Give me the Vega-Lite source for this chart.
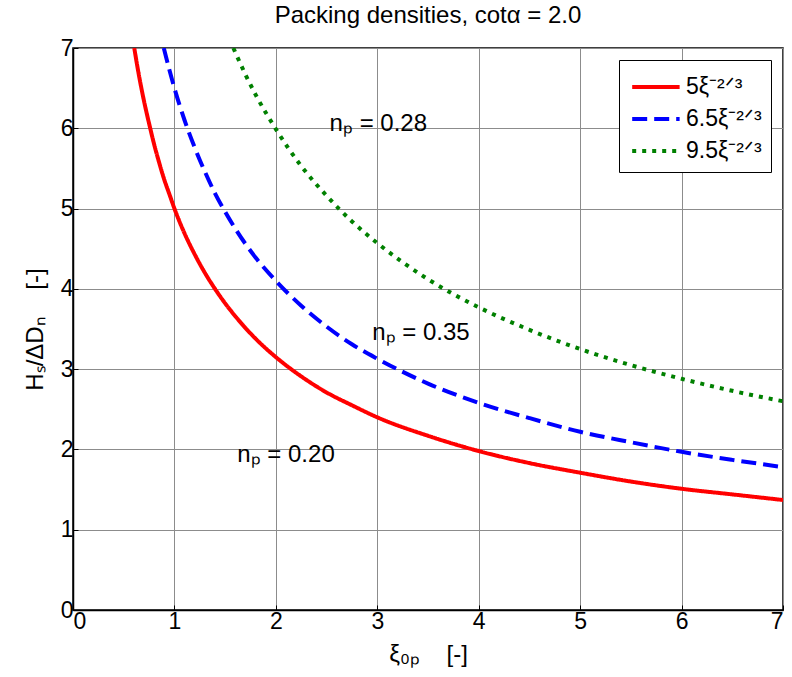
{
  "$schema": "https://vega.github.io/schema/vega-lite/v6.json",
  "width": 710,
  "height": 562,
  "autosize": {"type": "none"},
  "padding": {"left": 73, "top": 48, "right": 9, "bottom": 67},
  "background": "white",
  "title": {"text": "Packing densities, cotα = 2.0", "fontSize": 24, "font": "Liberation Sans", "fontWeight": "normal", "color": "black", "offset": 9},
  "config": {
    "font": "Liberation Sans",
    "view": {"stroke": "black", "strokeWidth": 1.5},
    "axis": {"gridColor": "#8c8c8c", "gridWidth": 1, "gridOpacity": 1, "domainColor": "black", "domainWidth": 1.5, "tickColor": "black", "tickSize": -5, "labelFontSize": 23, "labelColor": "black", "labelFont": "Liberation Sans", "titleFont": "Liberation Sans", "titleFontSize": 24, "titleFontWeight": "normal", "titleColor": "black"},
    "legend": {"labelFont": "Liberation Sans"}
  },
  "datasets": {
    "curves": [
      {"series": "5ξ⁻²ᐟ³", "x": 0.604, "y": 7.0},
      {"series": "5ξ⁻²ᐟ³", "x": 0.65, "y": 6.66},
      {"series": "5ξ⁻²ᐟ³", "x": 0.7, "y": 6.34},
      {"series": "5ξ⁻²ᐟ³", "x": 0.75, "y": 6.06},
      {"series": "5ξ⁻²ᐟ³", "x": 0.8, "y": 5.80},
      {"series": "5ξ⁻²ᐟ³", "x": 0.85, "y": 5.57},
      {"series": "5ξ⁻²ᐟ³", "x": 0.9, "y": 5.36},
      {"series": "5ξ⁻²ᐟ³", "x": 0.95, "y": 5.18},
      {"series": "5ξ⁻²ᐟ³", "x": 1.0, "y": 5.0},
      {"series": "5ξ⁻²ᐟ³", "x": 1.1, "y": 4.69},
      {"series": "5ξ⁻²ᐟ³", "x": 1.2, "y": 4.43},
      {"series": "5ξ⁻²ᐟ³", "x": 1.3, "y": 4.20},
      {"series": "5ξ⁻²ᐟ³", "x": 1.4, "y": 4.0},
      {"series": "5ξ⁻²ᐟ³", "x": 1.5, "y": 3.82},
      {"series": "5ξ⁻²ᐟ³", "x": 1.6, "y": 3.66},
      {"series": "5ξ⁻²ᐟ³", "x": 1.8, "y": 3.38},
      {"series": "5ξ⁻²ᐟ³", "x": 2.0, "y": 3.15},
      {"series": "5ξ⁻²ᐟ³", "x": 2.25, "y": 2.91},
      {"series": "5ξ⁻²ᐟ³", "x": 2.5, "y": 2.71},
      {"series": "5ξ⁻²ᐟ³", "x": 2.75, "y": 2.55},
      {"series": "5ξ⁻²ᐟ³", "x": 3.0, "y": 2.40},
      {"series": "5ξ⁻²ᐟ³", "x": 3.5, "y": 2.17},
      {"series": "5ξ⁻²ᐟ³", "x": 4.0, "y": 1.98},
      {"series": "5ξ⁻²ᐟ³", "x": 4.5, "y": 1.83},
      {"series": "5ξ⁻²ᐟ³", "x": 5.0, "y": 1.71},
      {"series": "5ξ⁻²ᐟ³", "x": 5.5, "y": 1.60},
      {"series": "5ξ⁻²ᐟ³", "x": 6.0, "y": 1.51},
      {"series": "5ξ⁻²ᐟ³", "x": 6.5, "y": 1.44},
      {"series": "5ξ⁻²ᐟ³", "x": 7.0, "y": 1.37},
      {"series": "6.5ξ⁻²ᐟ³", "x": 0.895, "y": 7.0},
      {"series": "6.5ξ⁻²ᐟ³", "x": 0.95, "y": 6.73},
      {"series": "6.5ξ⁻²ᐟ³", "x": 1.0, "y": 6.5},
      {"series": "6.5ξ⁻²ᐟ³", "x": 1.1, "y": 6.10},
      {"series": "6.5ξ⁻²ᐟ³", "x": 1.2, "y": 5.76},
      {"series": "6.5ξ⁻²ᐟ³", "x": 1.3, "y": 5.46},
      {"series": "6.5ξ⁻²ᐟ³", "x": 1.4, "y": 5.19},
      {"series": "6.5ξ⁻²ᐟ³", "x": 1.5, "y": 4.96},
      {"series": "6.5ξ⁻²ᐟ³", "x": 1.6, "y": 4.75},
      {"series": "6.5ξ⁻²ᐟ³", "x": 1.8, "y": 4.39},
      {"series": "6.5ξ⁻²ᐟ³", "x": 2.0, "y": 4.10},
      {"series": "6.5ξ⁻²ᐟ³", "x": 2.25, "y": 3.79},
      {"series": "6.5ξ⁻²ᐟ³", "x": 2.5, "y": 3.53},
      {"series": "6.5ξ⁻²ᐟ³", "x": 2.75, "y": 3.31},
      {"series": "6.5ξ⁻²ᐟ³", "x": 3.0, "y": 3.13},
      {"series": "6.5ξ⁻²ᐟ³", "x": 3.5, "y": 2.82},
      {"series": "6.5ξ⁻²ᐟ³", "x": 4.0, "y": 2.58},
      {"series": "6.5ξ⁻²ᐟ³", "x": 4.5, "y": 2.39},
      {"series": "6.5ξ⁻²ᐟ³", "x": 5.0, "y": 2.22},
      {"series": "6.5ξ⁻²ᐟ³", "x": 5.5, "y": 2.09},
      {"series": "6.5ξ⁻²ᐟ³", "x": 6.0, "y": 1.97},
      {"series": "6.5ξ⁻²ᐟ³", "x": 6.5, "y": 1.87},
      {"series": "6.5ξ⁻²ᐟ³", "x": 7.0, "y": 1.78},
      {"series": "9.5ξ⁻²ᐟ³", "x": 1.581, "y": 7.0},
      {"series": "9.5ξ⁻²ᐟ³", "x": 1.7, "y": 6.67},
      {"series": "9.5ξ⁻²ᐟ³", "x": 1.8, "y": 6.42},
      {"series": "9.5ξ⁻²ᐟ³", "x": 2.0, "y": 5.99},
      {"series": "9.5ξ⁻²ᐟ³", "x": 2.25, "y": 5.53},
      {"series": "9.5ξ⁻²ᐟ³", "x": 2.5, "y": 5.16},
      {"series": "9.5ξ⁻²ᐟ³", "x": 2.75, "y": 4.84},
      {"series": "9.5ξ⁻²ᐟ³", "x": 3.0, "y": 4.57},
      {"series": "9.5ξ⁻²ᐟ³", "x": 3.5, "y": 4.12},
      {"series": "9.5ξ⁻²ᐟ³", "x": 4.0, "y": 3.77},
      {"series": "9.5ξ⁻²ᐟ³", "x": 4.5, "y": 3.49},
      {"series": "9.5ξ⁻²ᐟ³", "x": 5.0, "y": 3.25},
      {"series": "9.5ξ⁻²ᐟ³", "x": 5.5, "y": 3.05},
      {"series": "9.5ξ⁻²ᐟ³", "x": 6.0, "y": 2.88},
      {"series": "9.5ξ⁻²ᐟ³", "x": 6.5, "y": 2.73},
      {"series": "9.5ξ⁻²ᐟ³", "x": 7.0, "y": 2.60}
    ],
    "notes": [
      {"label": "nₚ = 0.28", "x": 2.53, "y": 6.05},
      {"label": "nₚ = 0.35", "x": 2.95, "y": 3.45},
      {"label": "nₚ = 0.20", "x": 1.62, "y": 1.93}
    ]
  },
  "layer": [
    {
      "data": {"name": "curves"},
      "mark": {"type": "line", "strokeWidth": 4, "clip": true, "interpolate": "monotone"},
      "encoding": {
        "x": {"field": "x", "type": "quantitative", "scale": {"domain": [0, 7], "nice": false}, "axis": {"values": [0,1,2,3,4,5,6,7], "format": "d", "title": "ξ₀ₚ\u00a0\u00a0\u00a0\u00a0[-]", "titlePadding": 9, "labelPadding": 5}},
        "y": {"field": "y", "type": "quantitative", "scale": {"domain": [0, 7], "nice": false}, "axis": {"values": [0,1,2,3,4,5,6,7], "format": "d", "title": "Hₛ/ΔDₙ\u00a0\u00a0\u00a0\u00a0[-]", "titlePadding": 13, "labelPadding": 5}},
        "color": {"field": "series", "type": "nominal", "sort": ["5ξ⁻²ᐟ³", "6.5ξ⁻²ᐟ³", "9.5ξ⁻²ᐟ³"], "scale": {"domain": ["5ξ⁻²ᐟ³", "6.5ξ⁻²ᐟ³", "9.5ξ⁻²ᐟ³"], "range": ["#ff0000", "#0000ff", "#008000"]}, "legend": {"title": null, "orient": "top-right", "offset": 12, "strokeColor": "black", "fillColor": "white", "padding": 9, "symbolType": "M-1,0H2", "symbolSize": 1000, "symbolStrokeWidth": 4, "symbolOffset": 2, "labelOffset": 20, "labelFontSize": 23, "labelColor": "black", "rowPadding": 2, "cornerRadius": 0}},
        "strokeDash": {"field": "series", "type": "nominal", "sort": ["5ξ⁻²ᐟ³", "6.5ξ⁻²ᐟ³", "9.5ξ⁻²ᐟ³"], "scale": {"domain": ["5ξ⁻²ᐟ³", "6.5ξ⁻²ᐟ³", "9.5ξ⁻²ᐟ³"], "range": [[1, 0], [15, 7], [4, 6]]}, "legend": null}
      }
    },
    {
      "data": {"name": "notes"},
      "mark": {"type": "text", "align": "left", "baseline": "middle", "fontSize": 24, "font": "Liberation Sans", "color": "black"},
      "encoding": {
        "x": {"field": "x", "type": "quantitative"},
        "y": {"field": "y", "type": "quantitative"},
        "text": {"field": "label"}
      }
    }
  ]
}
